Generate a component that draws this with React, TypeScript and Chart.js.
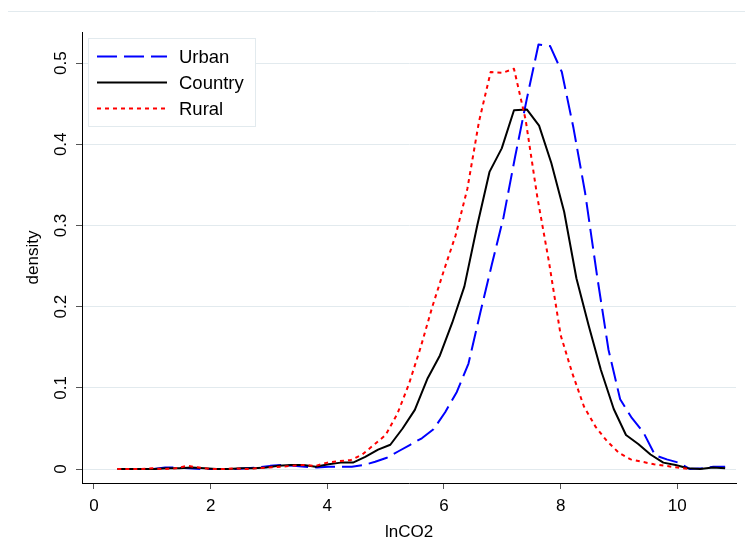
import React, { useEffect, useRef } from "react";
import { Chart, registerables } from "chart.js";

Chart.register(...registerables);

// Evaluation points of each kernel density estimate (lnCO2)
const xCountry = [
  0.40, 0.61, 0.83, 1.04, 1.25, 1.46, 1.68, 1.89, 2.10, 2.31,
  2.53, 2.74, 2.95, 3.16, 3.38, 3.59, 3.80, 4.02, 4.23, 4.44,
  4.65, 4.87, 5.08, 5.29, 5.50, 5.72, 5.93, 6.14, 6.35, 6.57,
  6.78, 6.99, 7.20, 7.42, 7.63, 7.84, 8.06, 8.27, 8.48, 8.69,
  8.91, 9.12, 9.33, 9.54, 9.76, 9.97, 10.18, 10.39, 10.61, 10.82,
];
const countryDensity = [
  0.000, 0.000, 0.000, 0.000, 0.001, 0.001, 0.002, 0.001, 0.000, 0.000,
  0.001, 0.001, 0.002, 0.004, 0.005, 0.005, 0.003, 0.006, 0.008, 0.008,
  0.015, 0.024, 0.030, 0.050, 0.073, 0.112, 0.140, 0.180, 0.225, 0.300,
  0.366, 0.395, 0.442, 0.443, 0.423, 0.377, 0.317, 0.235, 0.177, 0.122,
  0.074, 0.042, 0.031, 0.018, 0.008, 0.005, 0.001, 0.000, 0.002, 0.001,
];

const xUrban = [
  1.02, 1.22, 1.42, 1.62, 1.82, 2.02, 2.22, 2.42, 2.62, 2.82,
  3.02, 3.22, 3.42, 3.62, 3.82, 4.02, 4.22, 4.42, 4.62, 4.82,
  5.02, 5.22, 5.42, 5.62, 5.82, 6.02, 6.22, 6.42, 6.62, 6.82,
  7.02, 7.22, 7.42, 7.62, 7.82, 8.02, 8.22, 8.42, 8.62, 8.82,
  9.02, 9.22, 9.42, 9.62, 9.82, 10.02, 10.22, 10.42, 10.62, 10.82,
];
const urbanDensity = [
  0.000, 0.002, 0.002, 0.001, 0.000, 0.000, 0.000, 0.000, 0.001, 0.002,
  0.004, 0.005, 0.004, 0.003, 0.002, 0.003, 0.003, 0.003, 0.005, 0.009,
  0.014, 0.022, 0.030, 0.038, 0.049, 0.070, 0.095, 0.130, 0.192, 0.252,
  0.310, 0.385, 0.456, 0.523, 0.521, 0.489, 0.420, 0.340, 0.240, 0.147,
  0.086, 0.063, 0.045, 0.017, 0.012, 0.008, 0.000, 0.001, 0.003, 0.003,
];

const xRural = [
  0.4, 0.6, 0.8, 1.0, 1.2, 1.4, 1.6, 1.8, 2.0, 2.2,
  2.4, 2.6, 2.8, 3.0, 3.2, 3.4, 3.6, 3.8, 4.0, 4.2,
  4.4, 4.6, 4.8, 5.0, 5.2, 5.4, 5.6, 5.8, 6.0, 6.2,
  6.4, 6.6, 6.8, 7.0, 7.2, 7.4, 7.6, 7.8, 8.0, 8.2,
  8.4, 8.6, 8.8, 9.0, 9.2, 9.4, 9.6, 9.8, 10.0, 10.2,
];
const ruralDensity = [
  0.000, 0.000, 0.000, 0.001, 0.000, 0.001, 0.004, 0.002, 0.000, 0.000,
  0.001, 0.000, 0.001, 0.002, 0.003, 0.004, 0.005, 0.004, 0.008, 0.010,
  0.011, 0.018, 0.030, 0.042, 0.068, 0.105, 0.150, 0.200, 0.245, 0.288,
  0.345, 0.428, 0.489, 0.488, 0.493, 0.430, 0.335, 0.255, 0.165, 0.118,
  0.077, 0.052, 0.034, 0.020, 0.012, 0.009, 0.006, 0.004, 0.002, 0.000,
];

const seriesLabels = ["Urban", "Country", "Rural"];
const yTickValues = [0, 0.1, 0.2, 0.3, 0.4, 0.5];
const xTickValues = [0, 2, 4, 6, 8, 10];
const xTitle = "lnCO2";
const yTitle = "density";

const FONT = "'Liberation Sans', Arial, Helvetica, sans-serif";
const LIGHT = "rgb(226,234,238)";

export default function App() {
  const ref = useRef<HTMLCanvasElement>(null);

  useEffect(() => {
    const canvas = ref.current;
    if (!canvas) return;
    const pts = (xs: number[], ys: number[]) => xs.map((x, i) => ({ x, y: ys[i] }));

    const framePlugin = {
      id: "frameLine",
      beforeDraw(chart: any) {
        const ctx = chart.ctx;
        ctx.save();
        ctx.fillStyle = "#ffffff";
        ctx.fillRect(0, 0, chart.width, chart.height);
        ctx.strokeStyle = LIGHT;
        ctx.lineWidth = 1;
        ctx.beginPath();
        ctx.moveTo(8, 11.5);
        ctx.lineTo(chart.width, 11.5);
        ctx.stroke();
        ctx.restore();
      },
    };

    const legendPlugin = {
      id: "boxLegend",
      afterDatasetsDraw(chart: any) {
        const ctx = chart.ctx;
        ctx.save();
        ctx.fillStyle = "#ffffff";
        ctx.fillRect(88.5, 38.5, 167, 88);
        ctx.strokeStyle = LIGHT;
        ctx.lineWidth = 1;
        ctx.strokeRect(88.5, 38.5, 167, 88);
        const rows = [56.5, 82.5, 108.5];
        chart.data.datasets.forEach((ds: any, i: number) => {
          const y = rows[i];
          ctx.beginPath();
          ctx.setLineDash(ds.borderDash || []);
          ctx.strokeStyle = ds.borderColor;
          ctx.lineWidth = ds.borderWidth;
          ctx.moveTo(97, y);
          ctx.lineTo(167, y);
          ctx.stroke();
          ctx.setLineDash([]);
          ctx.fillStyle = "#000";
          ctx.font = `18.5px ${FONT}`;
          ctx.textBaseline = "middle";
          ctx.textAlign = "left";
          ctx.fillText(ds.label, 179, y + 1.5);
        });
        ctx.restore();
      },
    };

    const chart = new Chart(canvas, {
      type: "line",
      data: {
        datasets: [
          {
            label: seriesLabels[0],
            data: pts(xUrban, urbanDensity),
            borderColor: "#0000ff",
            borderWidth: 2,
            borderDash: [20, 7],
            pointRadius: 0,
            tension: 0,
            fill: false,
            order: 2,
          },
          {
            label: seriesLabels[1],
            data: pts(xCountry, countryDensity),
            borderColor: "#000000",
            borderWidth: 2,
            pointRadius: 0,
            tension: 0,
            fill: false,
            order: 1,
          },
          {
            label: seriesLabels[2],
            data: pts(xRural, ruralDensity),
            borderColor: "#ff0000",
            borderWidth: 2,
            borderDash: [4, 4],
            pointRadius: 0,
            tension: 0,
            fill: false,
            order: 0,
          },
        ],
      },
      options: {
        responsive: false,
        animation: false,
        devicePixelRatio: 1,
        layout: { padding: { left: 0, right: 9, top: 32, bottom: 0 } },
        plugins: {
          legend: { display: false },
          tooltip: { enabled: false },
        },
        elements: { line: { borderJoinStyle: "round" } },
        scales: {
          x: {
            type: "linear",
            min: -0.2057,
            max: 11.006,
            afterBuildTicks: (scale: any) => {
              scale.ticks = xTickValues.map((v) => ({ value: v }));
            },
            afterFit: (scale: any) => {
              scale.height = 64;
            },
            grid: {
              drawOnChartArea: false,
              drawTicks: true,
              tickLength: 6,
              tickColor: "#555555",
            },
            border: { display: true, color: "#000000", width: 1 },
            ticks: {
              color: "#000000",
              font: { family: FONT, size: 17 },
              padding: 7,
              maxRotation: 0,
              minRotation: 0,
              callback: (v: any) => String(v),
            },
            title: {
              display: true,
              text: xTitle,
              color: "#000000",
              font: { family: FONT, size: 17 },
              padding: { top: 0, bottom: 4 },
            },
          },
          y: {
            type: "linear",
            min: -0.0171,
            max: 0.5383,
            afterBuildTicks: (scale: any) => {
              scale.ticks = yTickValues.map((v) => ({ value: v }));
            },
            afterFit: (scale: any) => {
              scale.width = 82;
            },
            grid: {
              color: LIGHT,
              lineWidth: 1,
              drawTicks: true,
              tickLength: 6,
              tickColor: "#555555",
            },
            border: { display: true, color: "#000000", width: 1 },
            ticks: {
              color: "#000000",
              font: { family: FONT, size: 17 },
              padding: 2.5,
              minRotation: 90,
              maxRotation: 90,
              crossAlign: "center",
              callback: (v: any) => String(Math.round(v * 10) / 10),
            },
            title: {
              display: true,
              text: yTitle,
              color: "#000000",
              font: { family: FONT, size: 17 },
              padding: { top: 23, bottom: 0 },
            },
          },
        },
      },
      plugins: [framePlugin, legendPlugin],
    });

    return () => chart.destroy();
  }, []);

  return (
    <div style={{ position: "absolute", left: 0, top: 0, width: 745, height: 547 }}>
      <canvas ref={ref} width={745} height={547} style={{ display: "block" }} />
    </div>
  );
}
